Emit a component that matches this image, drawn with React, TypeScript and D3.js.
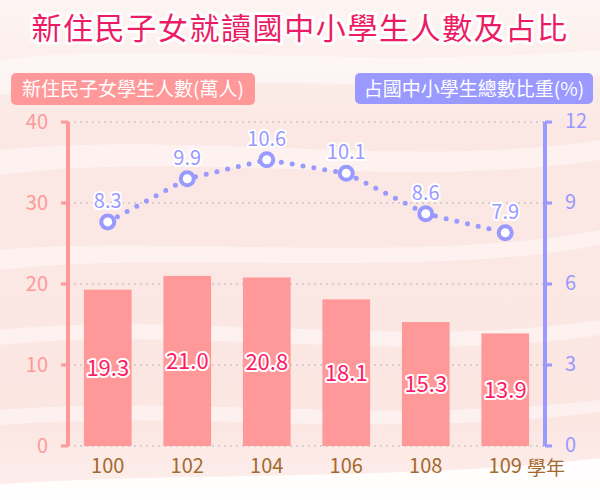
import * as d3 from "d3";

const years = ["100", "102", "104", "106", "108", "109"];
const students = [19.3, 21.0, 20.8, 18.1, 15.3, 13.9];
const shares = [8.3, 9.9, 10.6, 10.1, 8.6, 7.9];
const leftTicks = [0, 10, 20, 30, 40];
const rightTicks = [0, 3, 6, 9, 12];

const W = 600;
const H = 500;
const FONT = "'Noto Sans CJK TC', 'Noto Sans', sans-serif";
const PINK = "#ff9999";
const BLUE = "#9999ff";
const TITLE = "#ec1c64";
const BROWN = "#a36a2c";

const plot = { left: 68, right: 545, top: 122, bottom: 446 };

const x = d3
  .scaleBand<string>()
  .domain(years)
  .range([plot.left, plot.right])
  .paddingInner(0.4)
  .paddingOuter(0.2);
const yLeft = d3.scaleLinear().domain([0, 40]).range([plot.bottom, plot.top]);
const yRight = d3.scaleLinear().domain([0, 12]).range([plot.bottom, plot.top]);

const cx = (year: string) => (x(year) ?? 0) + x.bandwidth() / 2;

const shareLine = d3
  .line<number>()
  .x((_, i) => cx(years[i]))
  .y((v) => yRight(v));

// soft brush-stroke bands for the backdrop
const bands = [
  "M0,60 C150,40 350,70 600,50 L600,75 C380,95 160,70 0,95 Z",
  "M0,150 C200,130 400,170 600,140 L600,160 C400,190 200,150 0,175 Z",
  "M0,250 C150,235 420,265 600,230 L600,245 C420,280 160,250 0,270 Z",
  "M0,330 C180,310 400,350 600,320 L600,335 C400,365 180,325 0,345 Z",
  "M0,410 C200,395 380,425 600,400 L600,412 C380,440 200,410 0,425 Z",
];

const halo = {
  paintOrder: "stroke" as const,
  stroke: "white",
  strokeWidth: 4,
  strokeLinejoin: "round" as const,
};

const App = () => {
  return (
    <div style={{ position: "absolute", left: 0, top: 0, width: W, height: H }}>
      <svg width={W} height={H} style={{ display: "block", fontFamily: FONT }}>
        <defs>
          <linearGradient id="bg" x1="0" y1="0" x2="0" y2="1">
            <stop offset="0" stopColor="#fdf5f3" />
            <stop offset="0.25" stopColor="#fbe8e4" />
            <stop offset="0.85" stopColor="#fbe6e2" />
            <stop offset="1" stopColor="#fdf0ee" />
          </linearGradient>
        </defs>
        <rect width={W} height={H} fill="url(#bg)" />
        {bands.map((d, i) => (
          <path key={i} d={d} fill="white" opacity={0.45} />
        ))}
        <path d="M0,500 L0,484 C200,472 420,480 600,458 L600,500 Z" fill="white" opacity={0.9} />

        <text
          x={W / 2}
          y={39}
          textAnchor="middle"
          fontSize={30}
          letterSpacing={1.6}
          fill={TITLE}
          style={{ ...halo, strokeWidth: 6 }}
        >
          新住民子女就讀國中小學生人數及占比
        </text>

        <rect x={11} y={73} width={244} height={32} rx={5} fill={PINK} />
        <text x={133} y={96} textAnchor="middle" fontSize={19} fill="white">
          新住民子女學生人數(萬人)
        </text>
        <rect x={355} y={73} width={238} height={31} rx={5} fill={BLUE} />
        <text x={474} y={96} textAnchor="middle" fontSize={19} fill="white">
          占國中小學生總數比重(%)
        </text>

        {/* dotted grid */}
        {leftTicks.map((t) => (
          <line
            key={t}
            x1={plot.left}
            x2={plot.right}
            y1={yLeft(t)}
            y2={yLeft(t)}
            stroke="#c8c8c8"
            strokeWidth={1.5}
            strokeDasharray="2 4"
          />
        ))}

        {/* bars */}
        {students.map((v, i) => (
          <rect
            key={years[i]}
            x={x(years[i])}
            y={yLeft(v)}
            width={x.bandwidth()}
            height={plot.bottom - yLeft(v)}
            fill={PINK}
          />
        ))}
        {students.map((v, i) => (
          <text
            key={years[i]}
            x={cx(years[i])}
            y={(yLeft(v) + plot.bottom) / 2 + 8}
            textAnchor="middle"
            fontSize={22}
            fill="#ff1a66"
            style={halo}
          >
            {v.toFixed(1)}
          </text>
        ))}

        {/* left axis */}
        <line x1={plot.left} x2={plot.left} y1={plot.top} y2={plot.bottom} stroke={PINK} strokeWidth={4} />
        {leftTicks.map((t) => (
          <g key={t}>
            <line x1={plot.left - 7} x2={plot.left} y1={yLeft(t)} y2={yLeft(t)} stroke={PINK} strokeWidth={3} />
            <text x={48} y={yLeft(t) + 7} textAnchor="end" fontSize={20} fill={PINK}>
              {t}
            </text>
          </g>
        ))}

        {/* right axis */}
        <line x1={plot.right} x2={plot.right} y1={plot.top} y2={plot.bottom} stroke={BLUE} strokeWidth={4} />
        {rightTicks.map((t) => (
          <g key={t}>
            <line x1={plot.right} x2={plot.right + 7} y1={yRight(t)} y2={yRight(t)} stroke={BLUE} strokeWidth={3} />
            <text x={565} y={yRight(t) + 6} textAnchor="start" fontSize={20} fill={BLUE}>
              {t}
            </text>
          </g>
        ))}

        {/* share line */}
        <path
          d={shareLine(shares) ?? ""}
          fill="none"
          stroke={BLUE}
          strokeWidth={5}
          strokeLinecap="round"
          strokeDasharray="0 11"
        />
        {shares.map((v, i) => (
          <circle key={years[i]} cx={cx(years[i])} cy={yRight(v)} r={6.5} fill="white" stroke={BLUE} strokeWidth={4} />
        ))}
        {shares.map((v, i) => (
          <text
            key={years[i]}
            x={cx(years[i])}
            y={yRight(v) - 14}
            textAnchor="middle"
            fontSize={20}
            fill={BLUE}
            style={halo}
          >
            {v.toFixed(1)}
          </text>
        ))}

        {/* x labels */}
        {years.map((yr) => (
          <text key={yr} x={cx(yr)} y={473} textAnchor="middle" fontSize={20} fill={BROWN}>
            {yr}
          </text>
        ))}
        <text x={527} y={475} fontSize={19} fill={BROWN}>
          學年
        </text>
      </svg>
    </div>
  );
};

export default App;
